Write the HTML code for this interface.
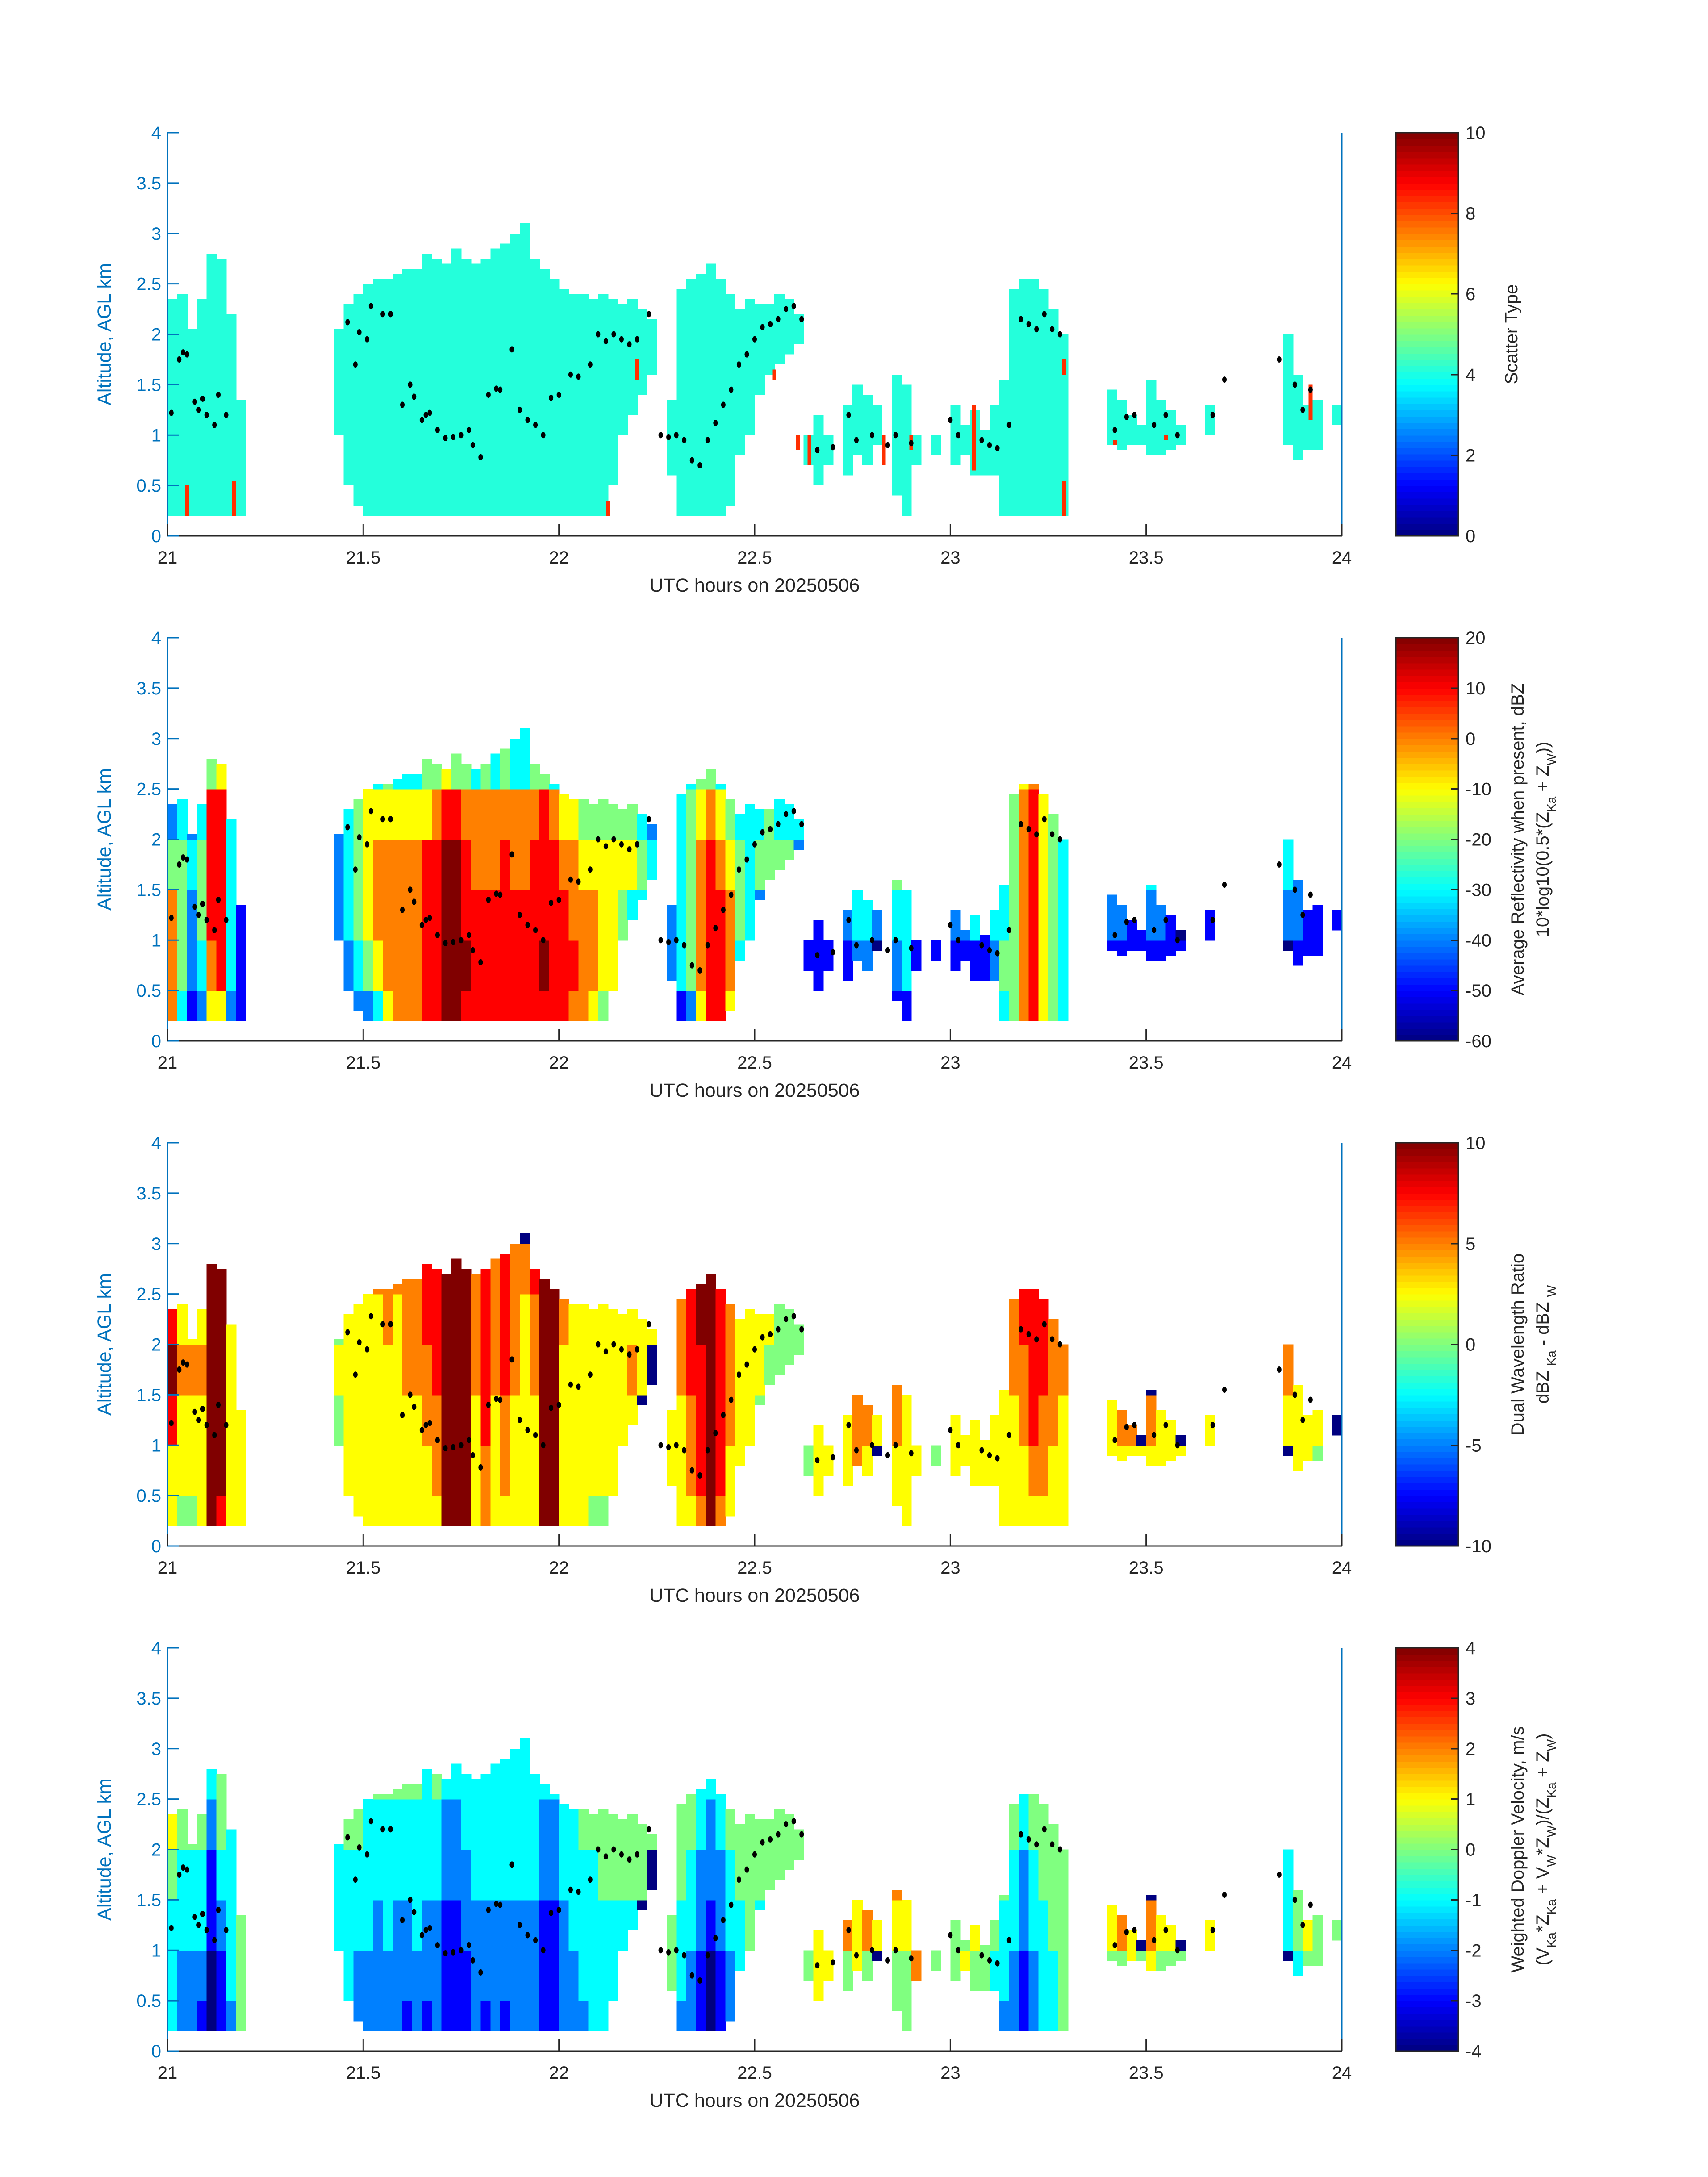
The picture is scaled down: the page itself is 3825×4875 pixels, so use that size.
<!DOCTYPE html>
<html><head><meta charset="utf-8"><style>
html,body{margin:0;padding:0;background:#fff;}
svg{display:block;font-family:"Liberation Sans",sans-serif;}
</style></head><body>
<svg id="fig" xmlns="http://www.w3.org/2000/svg" width="3825" height="4875" viewBox="0 0 3825 4875"></svg>
<script>
// ---- data ----
const colStart = 21.0;
const colStep = 0.025;
const colBot = [.2,.2,.2,.2,.2,.2,.2,.2,0,0,0,0,0,0,0,0,0,1.0,.5,.3,.2,.2,.2,.2,.2,.2,.2,.2,.2,.2,.2,.2,.2,.2,.2,.2,.2,.2,.2,.2,.2,.2,.2,.2,.2,.5,1.0,1.2,1.4,1.6,0,.6,.2,.2,.2,.2,.2,.3,.8,1.0,1.4,1.6,1.7,1.8,1.9,.7,.5,.7,0,.6,.8,.7,.9,0,.4,.2,.7,0,.8,0,.7,.8,.6,.6,.6,.2,.2,.2,.2,.2,.2,.2,0,0,0,0,.9,.85,.9,.9,.8,.8,.85,.9,0,0,1.0,0,0,0,0,0,0,0,.9,.75,.85,.85,0,1.1];
const colTop = [2.35,2.4,2.05,2.35,2.8,2.75,2.2,1.35,0,0,0,0,0,0,0,0,0,2.05,2.3,2.4,2.5,2.55,2.55,2.6,2.65,2.65,2.8,2.75,2.7,2.85,2.75,2.7,2.75,2.85,2.9,3.0,3.1,2.75,2.65,2.55,2.45,2.4,2.4,2.35,2.4,2.35,2.3,2.35,2.25,2.15,0,1.35,2.45,2.55,2.6,2.7,2.55,2.4,2.25,2.35,2.3,2.3,2.4,2.35,2.2,1.0,1.2,1.0,0,1.3,1.5,1.4,1.3,0,1.6,1.5,1.0,0,1.0,0,1.3,1.1,1.25,1.05,1.3,1.55,2.45,2.55,2.55,2.45,2.25,2.0,0,0,0,0,1.45,1.35,1.2,1.1,1.55,1.35,1.25,1.1,0,0,1.3,0,0,0,0,0,0,0,2.0,1.6,1.3,1.35,0,1.3];
// reflectivity levels per 0.5 km band: level d -> -60 + 10*d dBZ
const reflLevels = ["66642000","34443000","12232000","23443000","56777400","57777500","23333000","11100000","0","0","0","0","0","0","0","0","0","00222000","12333000","23444000","24555300","35665300","56665400","66665300","66665300","66665300","77775400","77776400","88887500","88887400","78776400","77766300","77766400","77766300","77776400","77766300","77766330","77776400","78777400","77776300","77765300","67665300","66654300","56654300","45554300","45554300","00454300","00354300","00343000","00032000","0","02200000","13333000","24444300","56665400","77776400","77765300","56654000","13443000","01333000","00243000","00044000","00043000","00043000","00023000","01000000","11100000","01000000","0","01200000","02330000","02300000","00200000","0","12340000","13330000","01000000","0","01000000","0","01200000","01200000","01300000","01100000","02300000","34330000","44444300","66666500","77777600","55555400","44444000","33332000","0","0","0","0","01220000","01200000","01100000","01100000","01230000","01200000","01100000","01000000","0","0","00100000","0","0","0","0","0","0","0","00233000","01220000","01100000","01100000","0","00100000"];
// DWR levels: d -> -10 + 2.5*d dB
const dwrLevels = ["55787000","45565000","45565000","55565000","88888800","78888800","55555000","55500000","0","0","0","0","0","0","0","0","0","00454000","45555000","55555000","55555500","55555600","55556600","55555600","55566600","55566600","55667700","56677700","88888800","88888800","88888800","55566600","66777700","55566600","56677700","55566600","55555600","55566700","88888800","88888800","55556600","55555600","55555500","45555500","45555500","45555500","00555500","00565500","00055000","00005000","0","05500000","55566000","56677700","67778800","88888800","67777700","55666000","55555000","04555000","00455000","00045000","00044000","00044000","00044000","04000000","55500000","05000000","0","05500000","06600000","05600000","00500000","0","55660000","55560000","05000000","0","04000000","0","05500000","05500000","05500000","05500000","05500000","55550000","55566600","55667700","56777700","56677700","55666000","55566000","0","0","0","0","05500000","05600000","05600000","05000000","05600000","05500000","05500000","05000000","0","0","00500000","0","0","0","0","0","0","0","00566000","05550000","05500000","04500000","0","00000000"];
// velocity levels: d -> -4 + d m/s
const velLevels = ["33345000","22334000","22334000","12334000","00112300","11234400","23333000","44400000","0","0","0","0","0","0","0","0","0","00333000","33334000","22334000","22333400","22233400","22333400","22233400","12233400","22333400","12233300","22233400","11122300","11122300","11223300","22233300","12233300","22233300","12233300","22233300","22233330","22233300","11122300","11122300","22233300","22333300","23334400","33334400","33344400","33344400","00344400","00344400","00044000","00004000","0","04400000","23344000","22334400","11223300","00122300","11223300","22334000","33344000","03444000","00344000","00044000","00044000","00044000","00044000","04000000","45500000","05000000","0","04600000","05500000","04600000","00500000","0","44560000","44550000","06000000","0","04000000","0","04400000","05400000","04500000","04400000","03400000","23340000","22334400","11223300","22334400","33344400","33444000","44444000","0","0","0","0","04500000","04600000","05500000","04000000","05600000","04500000","04500000","04000000","0","0","00500000","0","0","0","0","0","0","0","00333000","03440000","04500000","04400000","0","00400000"];
const scatterBase = 4.1;
const scatterPatchT = [21.045,21.165,22.12,22.195,22.545,22.605,22.635,22.825,22.895,23.055,23.285,23.285,23.415,23.545,23.915];
const scatterPatchBot = [0.2,0.2,0.2,1.55,1.55,0.85,0.7,0.7,0.85,0.65,1.6,0.2,0.9,0.95,1.15];
const scatterPatchTop = [0.5,0.55,0.35,1.75,1.65,1.0,1.0,1.0,1.0,1.3,1.75,0.55,0.95,1.0,1.5];
const scatterPatchVal = [8.3,8.3,8.3,8.3,8.3,8.3,8.3,8.3,8.3,8.3,8.3,8.3,8.3,8.3,8.3];
const dotT = [21.01,21.03,21.04,21.05,21.07,21.08,21.09,21.1,21.12,21.13,21.15,21.46,21.48,21.49,21.51,21.52,21.55,21.57,21.6,21.62,21.63,21.65,21.66,21.67,21.69,21.71,21.73,21.75,21.77,21.78,21.8,21.82,21.84,21.85,21.88,21.9,21.92,21.94,21.96,21.98,22.0,22.03,22.05,22.08,22.1,22.12,22.14,22.16,22.18,22.2,22.23,22.26,22.28,22.3,22.32,22.34,22.36,22.38,22.4,22.42,22.44,22.46,22.48,22.5,22.52,22.54,22.56,22.58,22.6,22.62,22.66,22.7,22.74,22.76,22.8,22.84,22.86,22.9,23.0,23.02,23.08,23.1,23.12,23.15,23.18,23.2,23.22,23.24,23.26,23.28,23.42,23.45,23.47,23.52,23.55,23.58,23.67,23.7,23.84,23.88,23.9,23.92];
const dotA = [1.22,1.75,1.82,1.8,1.33,1.25,1.36,1.2,1.1,1.4,1.2,2.12,1.7,2.02,1.95,2.28,2.2,2.2,1.3,1.5,1.38,1.15,1.2,1.22,1.05,0.97,0.98,1.0,1.05,0.9,0.78,1.4,1.46,1.45,1.85,1.25,1.15,1.1,1.0,1.37,1.4,1.6,1.58,1.7,2.0,1.93,2.0,1.95,1.9,1.95,2.2,1.0,0.98,1.0,0.95,0.75,0.7,0.95,1.12,1.3,1.45,1.7,1.8,1.95,2.07,2.1,2.15,2.25,2.28,2.15,0.85,0.88,1.2,0.95,1.0,0.9,1.0,0.92,1.15,1.0,0.95,0.9,0.87,1.1,2.15,2.1,2.05,2.2,2.05,2.0,1.05,1.18,1.2,1.1,1.2,1.0,1.2,1.55,1.75,1.5,1.25,1.45];
const xTicks = [21,21.5,22,22.5,23,23.5,24];
const xTickLabels = ["21","21.5","22","22.5","23","23.5","24"];
const yTicks = [0,0.5,1,1.5,2,2.5,3,3.5,4];
const yTickLabels = ["0","0.5","1","1.5","2","2.5","3","3.5","4"];

// ---- layout ----
const svg = document.getElementById('fig');
const NS = 'http://www.w3.org/2000/svg';
const L = 375, R = 3005, H = 903;
const tops = [297, 1428, 2559, 3690];
const CBX = 3126, CBW = 140;
const BLUE = '#0072bd';
function el(tag, attrs, parent){const e=document.createElementNS(NS,tag);for(const k in attrs)e.setAttribute(k,attrs[k]);(parent||svg).appendChild(e);return e;}
function jet(x){x=Math.max(0,Math.min(1,x));const c=v=>Math.round(255*Math.max(0,Math.min(1,v)));return `rgb(${c(1.5-Math.abs(4*x-3))},${c(1.5-Math.abs(4*x-2))},${c(1.5-Math.abs(4*x-1))})`;}
const xs = t => L + (t-21)/3*(R-L);

const panels = [
 {min:0,max:10,cbt:[0,2,4,6,8,10],labels:['Scatter Type'],kind:'scatter'},
 {min:-60,max:20,cbt:[-60,-50,-40,-30,-20,-10,0,10,20],labels:['Average Reflectivity when present, dBZ','10*log10(0.5*(Z<tspan baseline-shift="sub" font-size="28">Ka</tspan> + Z<tspan baseline-shift="sub" font-size="28">W</tspan>))'],levels:reflLevels,lv:d=>-60+10*d},
 {min:-10,max:10,cbt:[-10,-5,0,5,10],labels:['Dual Wavelength Ratio','dBZ <tspan baseline-shift="sub" font-size="28">Ka</tspan> - dBZ <tspan baseline-shift="sub" font-size="28">W</tspan>'],levels:dwrLevels,lv:d=>-10+2.5*d},
 {min:-4,max:4,cbt:[-4,-3,-2,-1,0,1,2,3,4],labels:['Weighted Doppler Velocity, m/s','(V<tspan baseline-shift="sub" font-size="28">Ka</tspan>*Z<tspan baseline-shift="sub" font-size="28">Ka</tspan> + V<tspan baseline-shift="sub" font-size="28">W</tspan>*Z<tspan baseline-shift="sub" font-size="28">W</tspan>)/(Z<tspan baseline-shift="sub" font-size="28">Ka</tspan> + Z<tspan baseline-shift="sub" font-size="28">W</tspan>)'],levels:velLevels,lv:d=>-4+d}
];

panels.forEach((p,pi)=>{
  const T = tops[pi], B = T+H;
  const ys = a => B - a/4*H;
  const col = v => jet((v-p.min)/(p.max-p.min));
  const g = el('g',{});
  
  
  const hm = el('g',{'shape-rendering':'crispEdges'},g);
  
  
  for(let i=0;i<colTop.length;i++){
    const bot=colBot[i], top=colTop[i];
    if(top<=0) continue;
    const t0=colStart+i*colStep, x0=xs(t0), x1=xs(t0+colStep);
    if(p.kind==='scatter'){
      const r=el('rect',{x:x0,y:ys(top),width:x1-x0+1,height:ys(bot)-ys(top),fill:col(scatterBase)},hm);
      
      
    } else {
      const s=p.levels[i];
      for(let b=0;b<8;b++){
        const a0=Math.max(bot,b*0.5), a1=Math.min(top,(b+1)*0.5);
        if(a1<=a0) continue;
        const d=parseInt(s[b]||'0');
        const r=el('rect',{x:x0,y:ys(a1),width:x1-x0+1,height:ys(a0)-ys(a1)+1,fill:col(p.lv(d))},hm);
        
        
      }
    }
  }
  if(p.kind==='scatter'){
    for(let k=0;k<scatterPatchT.length;k++){
      const r=el('rect',{x:xs(scatterPatchT[k]),y:ys(scatterPatchTop[k]),width:xs(scatterPatchT[k]+0.01)-xs(scatterPatchT[k]),height:ys(scatterPatchBot[k])-ys(scatterPatchTop[k]),fill:col(scatterPatchVal[k])},hm);
      
      
    }
  }
  for(let k=0;k<dotT.length;k++){
    const c=el('ellipse',{cx:xs(dotT[k]),cy:ys(dotA[k]),rx:5,ry:7,fill:'#000'},g);
    
    
  }
  const ax=el('line',{x1:L,y1:T,x2:L,y2:B,stroke:BLUE,'stroke-width':3},g);
   
  const ax2=el('line',{x1:R,y1:T,x2:R,y2:B,stroke:BLUE,'stroke-width':3},g);
   
  const xa=el('line',{x1:L,y1:B,x2:R,y2:B,stroke:'#262626','stroke-width':3},g);
   
  yTicks.forEach((v,k)=>{
    el('line',{x1:L,y1:ys(v),x2:L+26,y2:ys(v),stroke:BLUE,'stroke-width':3},g);
    const t=el('text',{x:L-14,y:ys(v)+14,'text-anchor':'end','font-size':40,fill:BLUE},g);
    t.textContent=yTickLabels[k];
     
  });
  xTicks.forEach((v,k)=>{
    el('line',{x1:xs(v),y1:B,x2:xs(v),y2:B-26,stroke:'#262626','stroke-width':3},g);
    const t=el('text',{x:xs(v),y:B+62,'text-anchor':'middle','font-size':40,fill:'#262626'},g);
    t.textContent=xTickLabels[k];
     
  });
  const xl=el('text',{x:(L+R)/2,y:B+125,'text-anchor':'middle','font-size':43,fill:'#262626'},g);
  xl.textContent='UTC hours on 20250506';
   
  const yl=el('text',{x:0,y:0,'text-anchor':'middle','font-size':43,fill:BLUE,transform:`translate(248,${(T+B)/2}) rotate(-90)`},g);
  yl.textContent='Altitude, AGL km';
   
  const cb=el('g',{'shape-rendering':'crispEdges'},g);
   
  const N=64;
  for(let k=0;k<N;k++){
    const y0=B-(k+1)*H/N;
    el('rect',{x:CBX,y:y0,width:CBW,height:H/N+1,fill:jet((k+0.5)/N)},cb);
  }
  el('rect',{x:CBX,y:T,width:CBW,height:H,fill:'none',stroke:'#262626','stroke-width':3},cb);
  p.cbt.forEach(v=>{
    const y=B-(v-p.min)/(p.max-p.min)*H;
    el('line',{x1:CBX+CBW-16,y1:y,x2:CBX+CBW,y2:y,stroke:'#262626','stroke-width':3},cb);
    const t=el('text',{x:CBX+CBW+16,y:y+14,'font-size':40,fill:'#262626'},cb);
    t.textContent=String(v);
     
  });
  const nl=p.labels.length;
  p.labels.forEach((lab,k)=>{
    const cx = nl===1 ? 3398 : (3412+k*56);
    const t=el('text',{x:0,y:0,'text-anchor':'middle','font-size':40,fill:'#262626',transform:`translate(${cx},${(T+B)/2}) rotate(-90)`},cb);
    t.innerHTML=lab;
     
  });
});
</script>
</body></html>
